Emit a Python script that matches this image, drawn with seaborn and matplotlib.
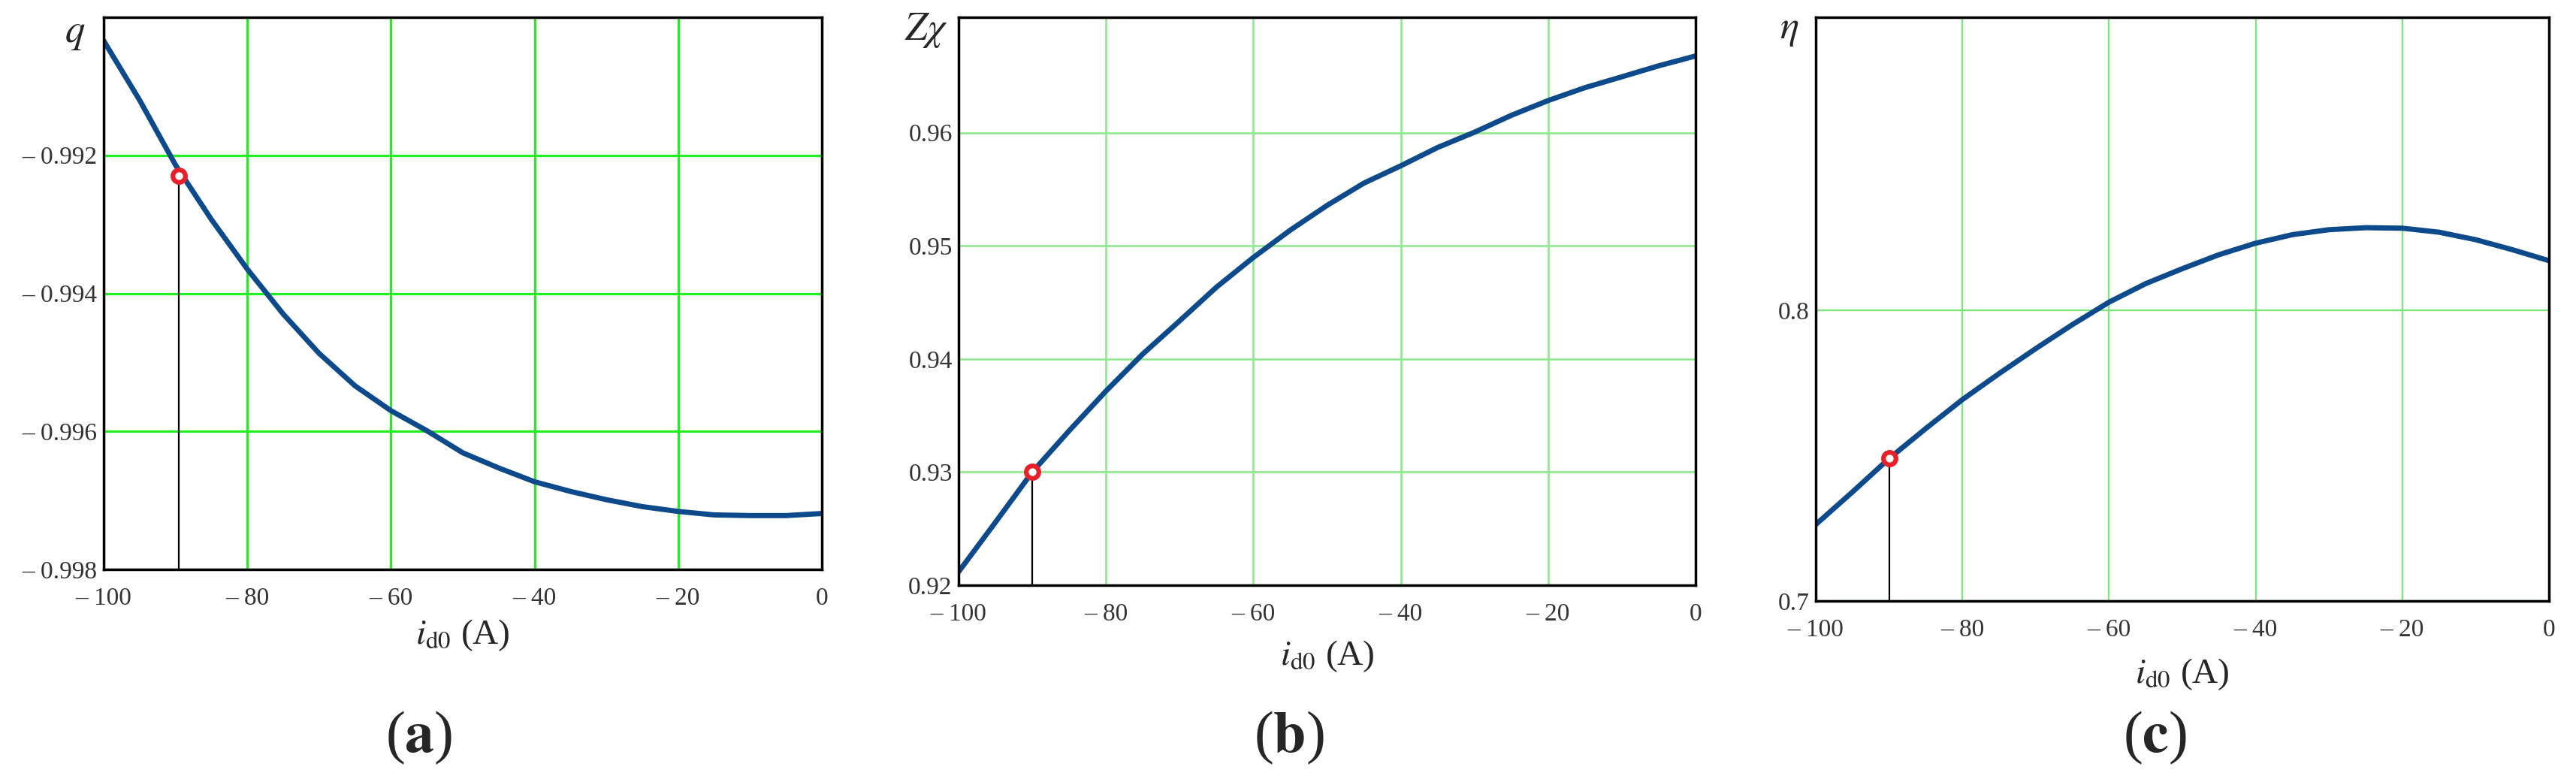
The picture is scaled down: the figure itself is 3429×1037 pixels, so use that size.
import matplotlib
matplotlib.use('Agg')
import matplotlib.pyplot as plt
import seaborn as sns
import pandas as pd

# values (every 5 A)
i_d0 = [-100, -95, -90, -85, -80, -75, -70, -65, -60, -55, -50,
        -45, -40, -35, -30, -25, -20, -15, -10, -5, 0]
q = [-0.99034, -0.99120, -0.99214, -0.99293, -0.99365, -0.99430, -0.99487,
     -0.99534, -0.99570, -0.99599, -0.99631, -0.99653, -0.99673, -0.99687,
     -0.99699, -0.99709, -0.99716, -0.99721, -0.99722, -0.99722, -0.99719]
z_chi = [0.92118, 0.92556, 0.93000, 0.93365, 0.93716, 0.94044, 0.94337,
         0.94635, 0.94897, 0.95138, 0.95357, 0.95554, 0.95707, 0.95869,
         0.96004, 0.96153, 0.96284, 0.96398, 0.96494, 0.96591, 0.96678]
eta = [0.72629, 0.73746, 0.74897, 0.75928, 0.76924, 0.77818, 0.78677,
       0.79502, 0.80275, 0.80911, 0.81426, 0.81907, 0.82302, 0.82595,
       0.82766, 0.82835, 0.82818, 0.82680, 0.82423, 0.82079, 0.81701]

# operating point marked on each curve
ponto_x = [-89.5, -90, -90]
ponto_y = [-0.9923, 0.9300, 0.7490]

x_ticks = [-100, -80, -60, -40, -20, 0]
x_tick_labels = ['– 100', '– 80', '– 60', '– 40', '– 20', '0']
q_ticks = [-0.998, -0.996, -0.994, -0.992]
q_tick_labels = ['– 0.998', '– 0.996', '– 0.994', '– 0.992']
z_ticks = [0.92, 0.93, 0.94, 0.95, 0.96]
z_tick_labels = ['0.92', '0.93', '0.94', '0.95', '0.96']
eta_ticks = [0.7, 0.8]
eta_tick_labels = ['0.7', '0.8']

y_names = [r'$q$', r'$Z\chi$', r'$\eta$']
panel_names = [r'($\mathbf{a}$)', r'($\mathbf{b}$)', r'($\mathbf{c}$)']

dados = pd.DataFrame({'i_d0': i_d0, 'q': q, 'z_chi': z_chi, 'eta': eta})

sns.set_style('white')
plt.rcParams['font.family'] = ['Liberation Serif', 'DejaVu Serif']
plt.rcParams['mathtext.fontset'] = 'stix'

W, H = 3430, 1037
fig = plt.figure(figsize=(W / 100, H / 100), dpi=100)

# axes boxes in pixels: left, right, top, bottom
boxes = [(138, 1094, 23, 758), (1276, 2257, 23, 779), (2417, 3393, 23, 800)]
colunas = ['q', 'z_chi', 'eta']
y_lims = [(-0.998, -0.990), (0.92, 0.9702), (0.7, 0.9007)]
y_ticks = [q_ticks, z_ticks, eta_ticks]
y_tick_labels = [q_tick_labels, z_tick_labels, eta_tick_labels]
grid_cores = ['#22ee22', '#8fea8f', '#7fe67f']
grid_lw = [2.3, 1.9, 1.7]
y_name_pos = [(100, 45), (1233, 40), (2382, 40)]
x_label_y = [846, 874, 898]
panel_x = [558, 1716, 2868]

for k in range(3):
    l, r, t, b = boxes[k]
    ax = fig.add_axes([l / W, 1 - b / H, (r - l) / W, (b - t) / H])
    ax.set_axisbelow(True)
    ax.grid(True, color=grid_cores[k], linewidth=grid_lw[k])
    sns.lineplot(x='i_d0', y=colunas[k], data=dados, ax=ax, color='#0d4a8b', linewidth=5)
    y0 = y_lims[k][0]
    ax.vlines(ponto_x[k], y0, ponto_y[k], color='black', linewidth=1.6, zorder=3)
    ax.plot(ponto_x[k], ponto_y[k], marker='o', markersize=12, markerfacecolor='white',
            markeredgecolor='#e8202a', markeredgewidth=4.5, zorder=4)
    ax.set_xlim(-100, 0)
    ax.set_ylim(*y_lims[k])
    ax.set_xticks(x_ticks)
    ax.set_xticklabels(x_tick_labels)
    ax.set_yticks(y_ticks[k])
    ax.set_yticklabels(y_tick_labels[k])
    ax.tick_params(length=0, labelsize=24, labelcolor='#333333')
    ax.tick_params(axis='x', pad=17)
    ax.tick_params(axis='y', pad=6)
    ax.set_xlabel('')
    ax.set_ylabel('')
    for s in ax.spines.values():
        s.set_visible(True)
        s.set_color('black')
        s.set_linewidth(2.5)

    fig.text(y_name_pos[k][0] / W, 1 - y_name_pos[k][1] / H, y_names[k],
             fontsize=38, ha='center', va='center')
    fig.text((l + r) / 2 / W, 1 - x_label_y[k] / H, r'$i_{\mathrm{d0}}$ (A)',
             fontsize=34, ha='center', va='center')
    fig.text(panel_x[k] / W, 1 - 982 / H, panel_names[k],
             fontsize=56, ha='center', va='center')

plt.savefig('out.png', dpi=100)
